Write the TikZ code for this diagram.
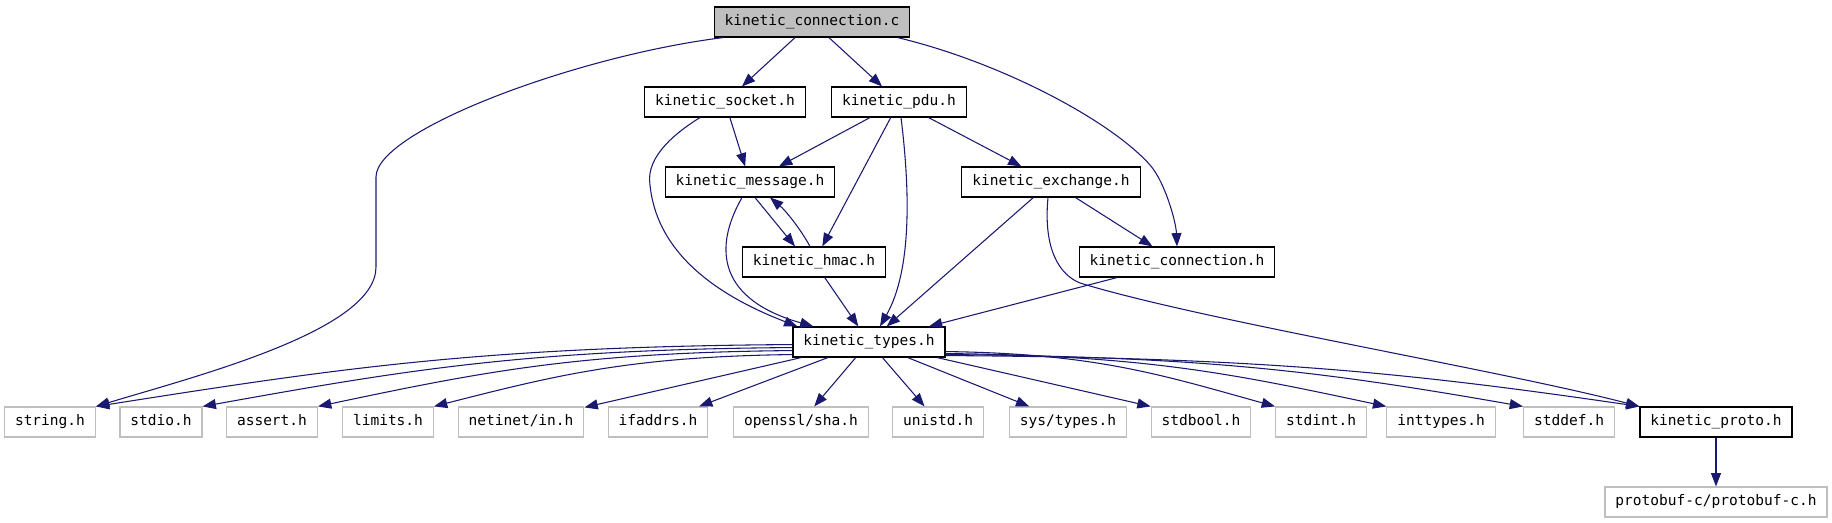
\documentclass[tikz,border=0pt]{standalone}
\usepackage{fontspec}
\setmonofont{DejaVu Sans Mono}
\usetikzlibrary{arrows.meta,calc}

\definecolor{edgeblue}{RGB}{25,25,112}
\definecolor{sysgray}{RGB}{191,191,191}

\begin{document}
\begin{tikzpicture}[x=0.75pt,y=-0.75pt,
    file/.style={draw=black,line width=0.85pt,fill=white,minimum height=22.5pt,inner xsep=7.8pt,inner ysep=0pt,
        text height=8pt,text depth=2.5pt,font=\ttfamily\fontsize{10.9pt}{12pt}\selectfont},
    sysfile/.style={file,draw=sysgray},
    edge/.style={draw=edgeblue,line width=0.8pt,-{Triangle[length=10pt,width=7.5pt]}}]
    \useasboundingbox (0,0) rectangle (1832,523);
    % project headers
    \node[file,fill=sysgray] (cc) at (812,22) {kinetic\_connection.c};
    \node[file] (sock) at (725,102) {kinetic\_socket.h};
    \node[file] (pdu) at (899,102) {kinetic\_pdu.h};
    \node[file] (msg) at (750,182) {kinetic\_message.h};
    \node[file] (exch) at (1051,182) {kinetic\_exchange.h};
    \node[file] (hmac) at (814,262) {kinetic\_hmac.h};
    \node[file] (connh) at (1177,262) {kinetic\_connection.h};
    \node[file] (types) at (869,342) {kinetic\_types.h};
    % system headers
    \node[sysfile] (str) at (50,422) {string.h};
    \node[sysfile] (stdio) at (161,422) {stdio.h};
    \node[sysfile] (assert) at (272,422) {assert.h};
    \node[sysfile] (limits) at (388,422) {limits.h};
    \node[sysfile] (netinet) at (521,422) {netinet/in.h};
    \node[sysfile] (ifaddrs) at (658,422) {ifaddrs.h};
    \node[sysfile] (openssl) at (801,422) {openssl/sha.h};
    \node[sysfile] (unistd) at (938,422) {unistd.h};
    \node[sysfile] (systypes) at (1068,422) {sys/types.h};
    \node[sysfile] (stdbool) at (1201,422) {stdbool.h};
    \node[sysfile] (stdint) at (1321,422) {stdint.h};
    \node[sysfile] (inttypes) at (1441,422) {inttypes.h};
    \node[sysfile] (stddef) at (1569,422) {stddef.h};
    \node[file] (proto) at (1716,422) {kinetic\_proto.h};
    \node[sysfile] (pbuf) at (1716,502) {protobuf-c/protobuf-c.h};
    % kinetic_connection.c
    \draw[edge] ($(cc.south west)+(10,0)$) .. controls (580,55) and (376,130) .. (376,177) -- (376,267)
        .. controls (376,330) and (200,375) .. (str.north east);
    \draw[edge] (cc) -- (sock);
    \draw[edge] (cc) -- (pdu);
    \draw[edge] ($(cc.south east)+(-13,0)$) .. controls (1000,62) and (1110,120) .. (1150,165)
        .. controls (1165,182) and (1176,222) .. (connh.north);
    % kinetic_socket.h
    \draw[edge] (sock) -- (msg);
    \draw[edge] ($(sock.south)+(-25,0)$) .. controls (680,130) and (645,155) .. (650,185)
        .. controls (655,235) and (690,285) .. ($(types.north west)+(5,0)$);
    % kinetic_pdu.h
    \draw[edge] (pdu) -- (msg);
    \draw[edge] (pdu) -- (hmac);
    \draw[edge] ($(pdu.south)+(2,0)$) .. controls (910,190) and (912,270) .. ($(types.north)+(11,0)$);
    \draw[edge] (pdu) -- (exch);
    % kinetic_message.h and kinetic_hmac.h
    \draw[edge] ($(msg.south)+(5,0)$) -- ($(hmac.north)+(-19,0)$);
    \draw[edge] ($(msg.south)+(-8,0)$) .. controls (712,250) and (720,300) .. ($(types.north west)+(21,0)$);
    \draw[edge] ($(hmac.north)+(-4,0)$) .. controls (800,228) and (785,210) .. ($(msg.south)+(20,0)$);
    \draw[edge] (hmac) -- (types);
    % kinetic_exchange.h
    \draw[edge] (exch) -- (types);
    \draw[edge] (exch) -- (connh);
    \draw[edge] ($(exch.south)+(-3,0)$) .. controls (1043,250) and (1060,275) .. (1080,283)
        .. controls (1200,320) and (1500,370) .. (proto.north west);
    \draw[edge] (connh) -- (types);
    % kinetic_types.h
    \foreach \t/\dy/\a/\b/\c in {str/13/311/242/38,stdio/10/265/206/37,assert/7/213/166/35,limits/3/160/125/32}
        {\draw[edge] ($(types.south west)+(0,-\dy)$) .. controls +(-\a,2) and +(\b,-\c) .. (\t.north east);}
    \foreach \t in {netinet,ifaddrs,openssl,unistd,systypes} {\draw[edge] (types) -- (\t);}
    \draw[edge] (types) -- (stdbool.north west);
    \foreach \t/\dy/\a/\b/\c in {stdint/6/150/115/32,inttypes/4/200/155/33,stddef/3/260/200/35,proto/2/310/240/35}
        {\draw[edge] ($(types.south east)+(0,-\dy)$) .. controls +(\a,2) and +(-\b,-\c) .. (\t.north west);}
    \draw[edge] (proto) -- (pbuf);
\end{tikzpicture}
\end{document}
